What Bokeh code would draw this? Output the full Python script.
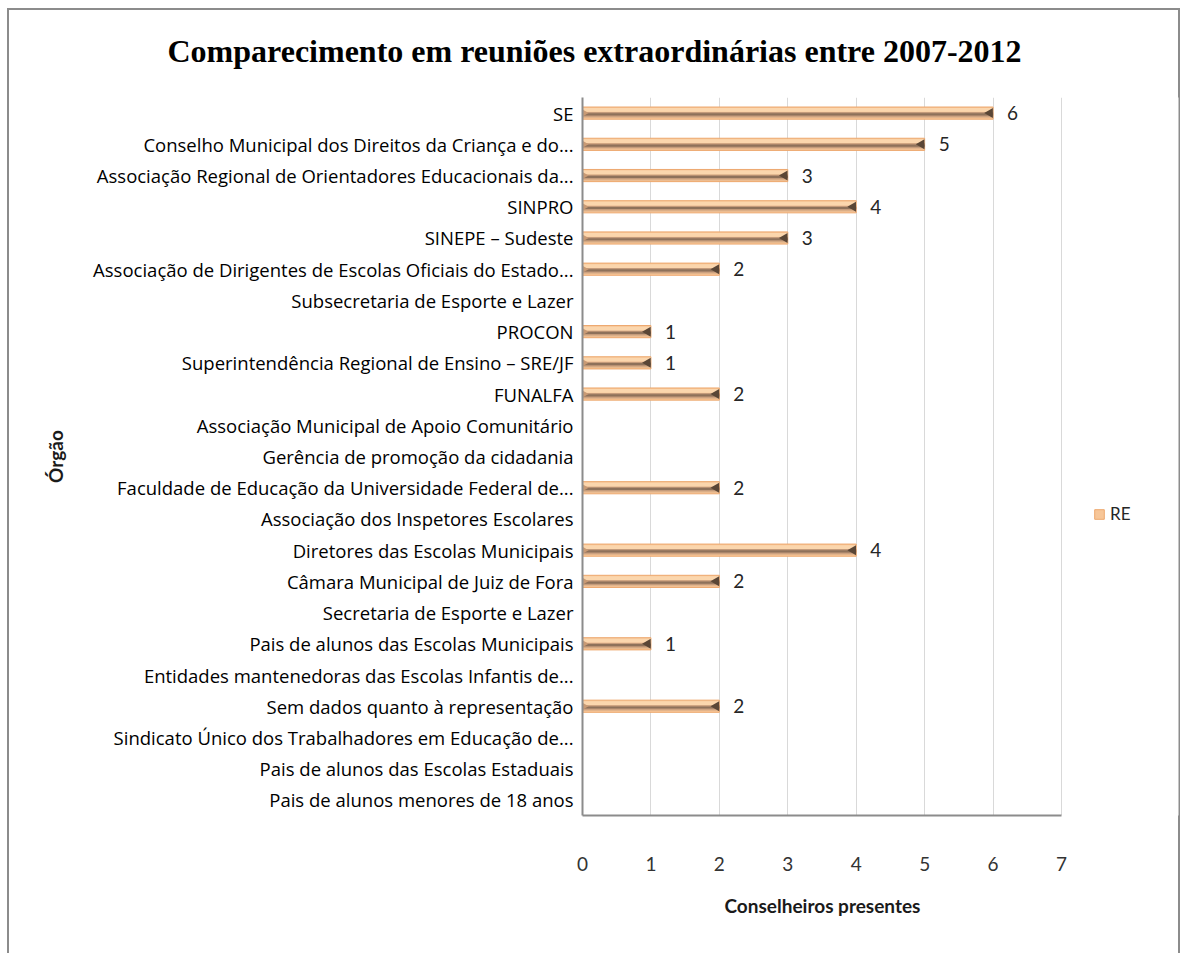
from bokeh.plotting import figure
from bokeh.models import (FactorRange, Range1d, Title, Legend,
                          LegendItem, ColumnDataSource, FixedTicker)
from bokeh.transform import dodge
from bokeh.core.properties import value
from bokeh.embed import file_html
from bokeh.resources import INLINE

title_text = "Comparecimento em reuniões extraordinárias entre 2007-2012"
x_title = "Conselheiros presentes"
y_title = "Órgão"
series_name = "RE"

categories = [
    "SE",
    "Conselho Municipal dos Direitos da Criança e do...",
    "Associação Regional de Orientadores Educacionais da...",
    "SINPRO",
    "SINEPE – Sudeste",
    "Associação de Dirigentes de Escolas Oficiais do Estado...",
    "Subsecretaria de Esporte e Lazer",
    "PROCON",
    "Superintendência Regional de Ensino – SRE/JF",
    "FUNALFA",
    "Associação Municipal de Apoio Comunitário",
    "Gerência de promoção da cidadania",
    "Faculdade de Educação da Universidade Federal de...",
    "Associação dos Inspetores Escolares",
    "Diretores das Escolas Municipais",
    "Câmara Municipal de Juiz de Fora",
    "Secretaria de Esporte e Lazer",
    "Pais de alunos das Escolas Municipais",
    "Entidades mantenedoras das Escolas Infantis de...",
    "Sem dados quanto à representação",
    "Sindicato Único dos Trabalhadores em Educação de...",
    "Pais de alunos das Escolas Estaduais",
    "Pais de alunos menores de 18 anos",
]
values = [6, 5, 3, 4, 3, 2, None, 1, 1, 2, None, None, 2, None, 4, 2, None, 1,
          None, 2, None, None, None]
x_ticks = [0, 1, 2, 3, 4, 5, 6, 7]

cats = [c for c, v in zip(categories, values) if v is not None]
vals = [v for v in values if v is not None]
src = ColumnDataSource(dict(cat=cats, val=vals, lab=[str(v) for v in vals],
                            zero=[0] * len(vals)))

# the axis spans 0..7 (px 582..1061); the frame continues to the right so the
# legend can sit inside it
FRAME_L, AXIS_R, FRAME_R = 582, 1061, 1178
x_max = x_ticks[-1]
x_end = x_max * (FRAME_R - FRAME_L) / (AXIS_R - FRAME_L)

border_css = ("linear-gradient(#8c8c8c,#8c8c8c) 7px 8px / 2px 945px no-repeat, "
              "linear-gradient(#8c8c8c,#8c8c8c) 7px 8px / 1173px 2px no-repeat, "
              "linear-gradient(#8c8c8c,#8c8c8c) 1178px 8px / 2px 945px no-repeat, "
              "white")

p = figure(width=1184, height=953,
           y_range=FactorRange(factors=categories[::-1]),
           x_range=Range1d(0, x_end),
           output_backend="svg", toolbar_location=None,
           min_border_left=FRAME_L, min_border_right=1184 - FRAME_R,
           min_border_top=97, min_border_bottom=138)
p.outline_line_color = None
p.background_fill_color = "white"
p.border_fill_alpha = 0
p.styles = {"background": border_css}

# title
p.add_layout(Title(text=title_text, align="left", offset=-415, standoff=58,
                   text_font="Liberation Serif", text_font_style="bold",
                   text_font_size="32px", text_color="black"), "above")

# axes
p.xaxis.ticker = FixedTicker(ticks=x_ticks)
p.xaxis.bounds = (0, x_max)
p.xaxis.major_tick_line_color = None
p.xaxis.minor_tick_line_color = None
p.xaxis.axis_line_color = "#8c8c8c"
p.xaxis.axis_line_width = 2
p.xaxis.major_label_standoff = 35
p.xaxis.major_label_text_font = "Lato"
p.xaxis.major_label_text_font_size = "19px"
p.xaxis.major_label_text_color = "#333333"

# x-axis title centred under the 0..7 axis (below the tick labels)
p.add_layout(Title(text=x_title, align="left", offset=142, standoff=37,
                   text_font="Lato", text_font_style="bold",
                   text_font_size="19px", text_color="#1a1a1a"), "below")

p.yaxis.major_tick_line_color = None
p.yaxis.minor_tick_line_color = None
p.yaxis.major_tick_out = 0
p.yaxis.axis_line_color = "#8c8c8c"
p.yaxis.axis_line_width = 2
p.yaxis.major_label_standoff = 9
p.yaxis.major_label_text_font = "Open Sans"
p.yaxis.major_label_text_font_size = "18.5px"
p.yaxis.major_label_text_color = "#000000"
p.yaxis.axis_label = y_title
p.yaxis.axis_label_text_font = "Lato"
p.yaxis.axis_label_text_font_style = "bold"
p.yaxis.axis_label_text_font_size = "19px"
p.yaxis.axis_label_text_color = "#1a1a1a"
p.yaxis.axis_label_standoff = 23

p.ygrid.grid_line_color = None
p.xgrid.ticker = FixedTicker(ticks=x_ticks)
p.xgrid.grid_line_color = "#d9d9d9"
p.xgrid.grid_line_width = 1

# bars (3D cylinder look approximated with layered bars)
base = p.hbar(y="cat", left="zero", right="val", height=0.39, source=src,
              fill_color="#F7C698", line_color="#EDA86E", line_width=1)
p.hbar(y=dodge("cat", -0.125, range=p.y_range), left="zero", right="val",
       height=0.06, source=src, fill_color="#E2B48B", line_color=None)
p.hbar(y=dodge("cat", -0.04, range=p.y_range), left="zero", right="val",
       height=0.15, source=src, fill_color="#C49B7B", line_color=None)
p.hbar(y=dodge("cat", -0.04, range=p.y_range), left="zero", right="val",
       height=0.07, source=src, fill_color="#8E715A", line_color=None)
p.hbar(y=dodge("cat", 0.10, range=p.y_range), left="zero", right="val",
       height=0.12, source=src, fill_color="#FBD6AD", line_color=None)
# end caps
p.scatter(x=dodge("val", -0.045, range=p.x_range), y="cat", source=src,
          marker="triangle", angle=1.5708, size=10,
          fill_color="#5A4636", line_color=None)
p.scatter(x=dodge("zero", 0.03, range=p.x_range), y="cat", source=src,
          marker="triangle", angle=-1.5708, size=7,
          fill_color="#C99A74", line_color=None)

# data labels
p.text(x="val", y="cat", text="lab", source=src, x_offset=14,
       text_baseline="middle", text_align="left",
       text_font=value("Lato"), text_font_size="19px", text_color="#262626")

# legend (inside the extended frame, right of the axis)
legend = Legend(items=[LegendItem(label=series_name, renderers=[base])],
                location=(1093 - FRAME_L, 291), border_line_color=None,
                background_fill_alpha=0, padding=0, margin=0,
                glyph_width=12, glyph_height=12, label_standoff=5,
                label_text_font="Lato", label_text_font_size="17px",
                label_text_color="#262626")
p.add_layout(legend, "center")

open("out.html", "w").write(file_html(p, INLINE))
